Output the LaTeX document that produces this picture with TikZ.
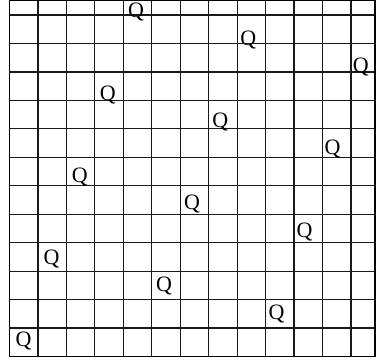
\documentclass[tikz,border=0pt]{standalone}
\usepackage{fontspec}
\setmainfont{Liberation Serif}
\usetikzlibrary{positioning}

\begin{document}
\begin{tikzpicture}[
  x=28.1pt, y=27.4pt,
  queen/.style={inner sep=0pt, font=\fontsize{22}{22}\selectfont, yshift=1.5pt}
]
\useasboundingbox (-9.5pt,-4pt) rectangle (367.5pt,356.5pt);
% board
\draw[line width=1.2pt, black!90] (0,0) grid (13,13);
\draw[line width=1.4pt] (0,0) rectangle (13,13);
% queens, one per row
\foreach \r in {1,...,13} {
  \pgfmathtruncatemacro{\c}{mod(4*\r,13)}
  \node[queen] (q\r) at (\c+0.5, 13.5-\r) {Q};
}
\end{tikzpicture}
\end{document}
